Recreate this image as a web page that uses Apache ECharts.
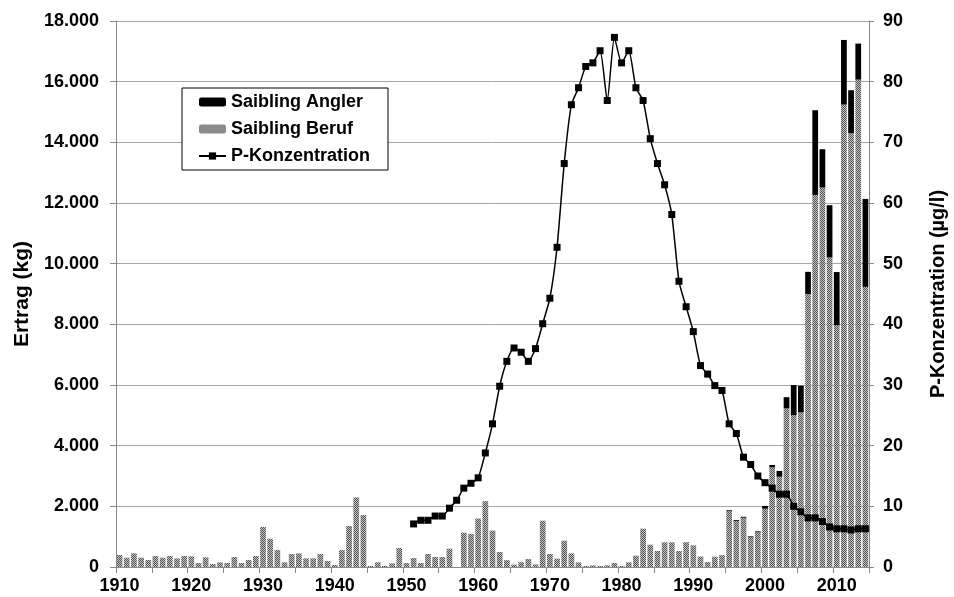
<!DOCTYPE html>
<html>
<head>
<meta charset="utf-8">
<script src="https://cdn.jsdelivr.net/npm/echarts@6/dist/echarts.min.js"></script>
<style>
html,body{margin:0;padding:0;background:#fff;}
#c{width:954px;height:597px;}
</style>
</head>
<body>
<div id="c"></div>
<script>
// ---- data ----
const years = [];
for (let y = 1910; y <= 2014; y++) years.push(String(y));

const beruf = [
  395, 307, 450, 307, 230, 362, 307, 362, 285, 362,
  351, 132, 318, 99, 154, 132, 329, 132, 230, 362,
  1318, 933, 560, 154, 428, 450, 285, 285, 428, 197,
  66, 560, 1351, 2295, 1713, 33, 154, 33, 121, 626,
  132, 297, 132, 428, 329, 329, 604, 0, 1131, 1087,
  1600, 2170, 1200, 495, 225, 80, 160, 264, 88, 1527,
  428, 274, 867, 450, 154, 33, 55, 33, 55, 132,
  33, 154, 373, 1263, 736, 527, 815, 815, 527, 820,
  715, 345, 165, 340, 392, 1840, 1515, 1625, 980, 1145,
  1922, 3284, 2976, 5228, 5008, 5096, 8995, 12267, 12510, 10204,
  7974, 15245, 14300, 16069, 9236
];

const anglerYears = ['1995','1996','1997','1998','1999','2000','2001','2002','2003','2004','2005','2006','2007','2008','2009','2010','2011','2012','2013','2014'];
const anglerValues = [30, 30, 30, 30, 30, 90, 80, 190, 370, 990, 880, 735, 2791, 1263, 1724, 1750, 2130, 1417, 1186, 2899];

const pYears = [];
for (let y = 1951; y <= 2014; y++) pYears.push(String(y));
const pValues = [
  7.1, 7.7, 7.7, 8.4, 8.4, 9.7, 11.0, 13.0, 13.8,
  14.7, 18.8, 23.6, 29.8, 33.9, 36.1, 35.4, 33.9, 36.0, 40.1,
  44.3, 52.7, 66.5, 76.2, 79.0, 82.5, 83.1, 85.1, 76.9, 87.3,
  83.1, 85.1, 79.0, 76.9, 70.6, 66.5, 63.0, 58.1, 47.1, 42.9,
  38.8, 33.2, 31.8, 29.9, 29.1, 23.6, 22.0, 18.1, 16.9, 15.0,
  13.9, 13.0, 12.0, 12.0, 10.0, 9.1, 8.1, 8.1, 7.5, 6.6,
  6.3, 6.3, 6.1, 6.3, 6.3
];

// ---- build series arrays aligned to categories ----
const angler = years.map(y => { const i = anglerYears.indexOf(y); return i >= 0 ? anglerValues[i] : null; });
const pConc = years.map(y => { const i = pYears.indexOf(y); return i >= 0 ? pValues[i] : null; });

// pattern fill for "Beruf"
const pc = document.createElement('canvas');
pc.width = 2; pc.height = 2;
const pctx = pc.getContext('2d');
pctx.fillStyle = '#c2c2c2'; pctx.fillRect(0, 0, 2, 2);
pctx.fillStyle = '#555555'; pctx.fillRect(0, 0, 1, 1); pctx.fillRect(1, 1, 1, 1);
const pattern = { image: pc, repeat: 'repeat' };

const FONT = '"Liberation Sans", Arial, sans-serif';
function fmt(v) { return String(v).replace(/\B(?=(\d{3})+(?!\d))/g, '.'); }

const chart = echarts.init(document.getElementById('c'), null, { renderer: 'canvas' });
chart.setOption({
  animation: false,
  backgroundColor: '#fff',
  textStyle: { fontFamily: FONT },
  grid: { left: 116, right: 85, top: 21, bottom: 30, containLabel: false, outerBoundsMode: 'none' },
  legend: {
    orient: 'vertical',
    left: 182, top: 88,
    padding: [5, 18, 5, 16],
    itemGap: 9,
    itemWidth: 27, itemHeight: 9,
    borderColor: '#000', borderWidth: 1,
    backgroundColor: '#fff',
    data: ['Saibling Angler', 'Saibling Beruf', 'P-Konzentration'],
    textStyle: { fontFamily: FONT, fontWeight: 'bold', fontSize: 18, color: '#000', lineHeight: 18 }
  },
  xAxis: {
    type: 'category',
    data: years,
    boundaryGap: true,
    axisLine: { show: true, lineStyle: { color: '#888', width: 1 } },
    axisTick: { show: true, length: 6, lineStyle: { color: '#888' }, interval: function (i) { return i % 5 === 0; } },
    axisLabel: { interval: function (i) { return i % 10 === 0; }, margin: 10, fontFamily: FONT, fontWeight: 'bold', fontSize: 18, color: '#000' },
    splitLine: { show: false }
  },
  yAxis: [
    {
      type: 'value', min: 0, max: 18000, interval: 2000,
      name: 'Ertrag (kg)', nameLocation: 'middle', nameGap: 83, nameRotate: 90,
      nameTextStyle: { fontFamily: FONT, fontWeight: 'bold', fontSize: 21, color: '#000' },
      axisLine: { show: true, lineStyle: { color: '#888' } },
      axisTick: { show: true, length: 6, inside: false, lineStyle: { color: '#888' } },
      axisLabel: { margin: 17, fontFamily: FONT, fontWeight: 'bold', fontSize: 18, color: '#000', formatter: fmt },
      splitLine: { show: true, lineStyle: { color: '#a6a6a6', width: 1 } }
    },
    {
      type: 'value', min: 0, max: 90, interval: 10, position: 'right',
      name: 'P-Konzentration (µg/l)', nameLocation: 'middle', nameGap: 59, nameRotate: 90,
      nameTextStyle: { fontFamily: FONT, fontWeight: 'bold', fontSize: 20, color: '#000' },
      axisLine: { show: true, lineStyle: { color: '#888' } },
      axisTick: { show: true, length: 5, lineStyle: { color: '#888' } },
      axisLabel: { margin: 14, fontFamily: FONT, fontWeight: 'bold', fontSize: 18, color: '#000' },
      splitLine: { show: false }
    }
  ],
  series: [
    {
      name: 'Saibling Beruf', type: 'bar', stack: 'e', data: beruf,
      barCategoryGap: '20%',
      itemStyle: { color: pattern }
    },
    {
      name: 'Saibling Angler', type: 'bar', stack: 'e', data: angler,
      itemStyle: { color: '#000' }
    },
    {
      name: 'P-Konzentration', type: 'line', yAxisIndex: 1, data: pConc,
      smooth: 0.2, symbol: 'rect', symbolSize: 7, showSymbol: true, showAllSymbol: true,
      lineStyle: { color: '#000', width: 1.5 },
      itemStyle: { color: '#000' },
      z: 5
    }
  ]
});
</script>
</body>
</html>
